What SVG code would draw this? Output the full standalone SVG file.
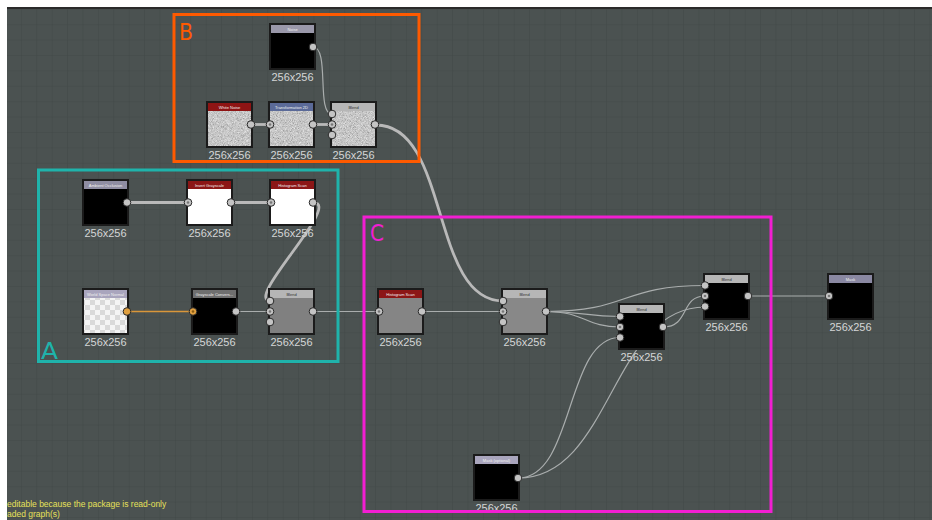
<svg xmlns="http://www.w3.org/2000/svg" width="932" height="520" viewBox="0 0 932 520">
<style>
.frame{fill:#1b1b1b;stroke:#1b1b1b;stroke-width:2}
.hdr-text{font-family:"Liberation Sans",Arial,sans-serif;font-size:4px;fill:#f0f0f0;text-anchor:middle}
.lbl{font-family:"Liberation Sans",Arial,sans-serif;font-size:11px;fill:#d4d6d6;text-anchor:middle}
.port{fill:#c4c4c4;stroke:#2a2a2a;stroke-width:1}
.port-o{fill:#e0a040;stroke:#2a2a2a;stroke-width:1}
.dot{fill:#777}
.thick{fill:none;stroke:#b9b9b9;stroke-width:2.8}
.thin{fill:none;stroke:#a9adad;stroke-width:1.2}
.orange{fill:none;stroke:#d9963a;stroke-width:1.3}
.grp{fill:none;stroke-width:3}
.glabel{font-family:"DejaVu Sans Condensed","Liberation Sans",Arial,sans-serif;font-size:23px}
.msg{font-family:"Liberation Sans",Arial,sans-serif;font-size:8.5px;fill:#e6e05a}
</style>
<defs>
<pattern id="grid" x="5.5" y="8.8" width="15.4" height="15.4" patternUnits="userSpaceOnUse">
<rect width="15.4" height="15.4" fill="#4b5251"/>
<path d="M0 0H15.4M0 0V15.4" stroke="#424948" stroke-width="1.2" fill="none"/>
</pattern>
<pattern id="checker" width="10" height="10" patternUnits="userSpaceOnUse">
<rect width="10" height="10" fill="#f4f4f4"/>
<rect width="5" height="5" fill="#d9d9d9"/>
<rect x="5" y="5" width="5" height="5" fill="#d9d9d9"/>
</pattern>
<filter id="noise" x="0" y="0" width="100%" height="100%">
<feTurbulence type="fractalNoise" baseFrequency="1.6" numOctaves="2" seed="4"/>
<feColorMatrix type="matrix" values="0.33 0.33 0.33 0 0 0.33 0.33 0.33 0 0 0.33 0.33 0.33 0 0 0 0 0 0 1"/>
<feComponentTransfer><feFuncR type="linear" slope="1.1" intercept="0.02"/><feFuncG type="linear" slope="1.1" intercept="0.02"/><feFuncB type="linear" slope="1.1" intercept="0.02"/></feComponentTransfer>
</filter>
</defs>

<rect width="932" height="520" fill="#ffffff"/>
<rect x="7" y="7" width="925" height="513" fill="url(#grid)"/>
<rect x="7" y="7" width="925" height="2" fill="#2b2b2b"/>

<g id="connectors">
<path class="thin" d="M313,47 C330,47 316,114 332,114"/>
<path class="thick" d="M251,124.5 H270"/>
<path class="thick" d="M313,124.5 H332"/>
<path class="thick" d="M376,125 C450,125 430,301 503,301"/>
<path class="thick" d="M127,202.5 H188"/>
<path class="thick" d="M231,202.5 H271"/>
<path class="thick" d="M313,202.5 C344,202.5 242,301 271,301"/>
<path class="orange" d="M127,311.5 H193"/>
<path class="thin" d="M236,311.5 H270"/>
<path class="thin" d="M313,311.5 H379"/>
<path class="thin" d="M422,311.5 H503"/>
<path class="thin" d="M546,311.5 C630,311.5 620,285.5 705,285.5"/>
<path class="thin" d="M546,311.5 C585,311.5 585,316.5 620,316.5"/>
<path class="thin" d="M546,311.5 C585,311.5 585,327 620,327"/>
<path class="thin" d="M663,327 C690,327 680,296 705,296"/>
<path class="thin" d="M518,478 C612,478 611,307 705,307"/>
<path class="thin" d="M518,478 C575,478 565,337.5 620,337.5"/>
<path class="thin" d="M748,296 H829"/>
</g>

<g id="node-noise">
<rect class="frame" x="270" y="24" width="45" height="45"/>
<rect x="271" y="25" width="43" height="8" fill="#9a98aa"/>
<rect x="271" y="33" width="43" height="35" fill="#000"/>
<text class="hdr-text" x="292.5" y="30.5">Noise</text>
<circle class="port" cx="313" cy="47" r="3.8"/>
<text class="lbl" x="292.5" y="80.5">256x256</text>
</g>

<g id="node-white-noise">
<rect class="frame" x="207" y="102" width="45" height="45"/>
<rect x="208" y="111" width="43" height="35" fill="#888" filter="url(#noise)"/>
<rect x="208" y="103" width="43" height="8" fill="#8e1414"/>
<text class="hdr-text" x="229.5" y="108.5">White Noise</text>
<circle class="port" cx="251" cy="124.5" r="3.8"/>
<text class="lbl" x="229.5" y="158.5">256x256</text>
</g>

<g id="node-transformation-2d">
<rect class="frame" x="269" y="102" width="45" height="45"/>
<rect x="270" y="111" width="43" height="35" fill="#888" filter="url(#noise)"/>
<rect x="270" y="103" width="43" height="8" fill="#5b6a98"/>
<text class="hdr-text" x="291.5" y="108.5">Transformation 2D</text>
<circle class="port" cx="270" cy="124.5" r="3.8"/><circle class="dot" cx="270" cy="124.5" r="1.3"/>
<circle class="port" cx="313" cy="124.5" r="3.8"/>
<text class="lbl" x="291.5" y="158.5">256x256</text>
</g>

<g id="node-blend-b">
<rect class="frame" x="331" y="102" width="45" height="45"/>
<rect x="332" y="111" width="43" height="35" fill="#888" filter="url(#noise)"/>
<rect x="332" y="103" width="43" height="8" fill="#b6b6b6"/>
<text class="hdr-text" x="353.5" y="108.5" style="fill:#333">Blend</text>
<circle class="port" cx="332" cy="114" r="3.8"/>
<circle class="port" cx="332" cy="124.5" r="3.8"/><circle class="dot" cx="332" cy="124.5" r="1.3"/>
<circle class="port" cx="332" cy="135" r="3.8"/>
<circle class="port" cx="375" cy="124.5" r="3.8"/>
<text class="lbl" x="353.5" y="158.5">256x256</text>
</g>

<g id="node-ambient-occlusion">
<rect class="frame" x="83" y="180" width="45" height="45"/>
<rect x="84" y="181" width="43" height="8" fill="#8f8da2"/>
<rect x="84" y="189" width="43" height="35" fill="#000"/>
<text class="hdr-text" x="105.5" y="186.5">Ambient Occlusion</text>
<circle class="port" cx="127" cy="202.5" r="3.8"/>
<text class="lbl" x="105.5" y="236.5">256x256</text>
</g>

<g id="node-invert-grayscale">
<rect class="frame" x="187" y="180" width="45" height="45"/>
<rect x="188" y="181" width="43" height="8" fill="#8c1616"/>
<rect x="188" y="189" width="43" height="35" fill="#fff"/>
<text class="hdr-text" x="209.5" y="186.5">Invert Grayscale</text>
<circle class="port" cx="188" cy="202.5" r="3.8"/><circle class="dot" cx="188" cy="202.5" r="1.3"/>
<circle class="port" cx="231" cy="202.5" r="3.8"/>
<text class="lbl" x="209.5" y="236.5">256x256</text>
</g>

<g id="node-histogram-scan-a">
<rect class="frame" x="270" y="180" width="45" height="45"/>
<rect x="271" y="181" width="43" height="8" fill="#8c1616"/>
<rect x="271" y="189" width="43" height="35" fill="#fff"/>
<text class="hdr-text" x="292.5" y="186.5">Histogram Scan</text>
<circle class="port" cx="271" cy="202.5" r="3.8"/><circle class="dot" cx="271" cy="202.5" r="1.3"/>
<circle class="port" cx="313" cy="202.5" r="3.8"/>
<text class="lbl" x="292.5" y="236.5">256x256</text>
</g>

<g id="node-world-space-normal">
<rect class="frame" x="83" y="289" width="45" height="45"/>
<rect x="84" y="290" width="43" height="8" fill="#a9a5bd"/>
<rect x="84" y="298" width="43" height="35" fill="url(#checker)"/>
<text class="hdr-text" x="105.5" y="295.5">World Space Normal</text>
<circle class="port-o" cx="127" cy="311.5" r="3.8"/>
<text class="lbl" x="105.5" y="345.5">256x256</text>
</g>

<g id="node-grayscale-conversion">
<rect class="frame" x="192" y="289" width="45" height="45"/>
<rect x="193" y="290" width="43" height="8" fill="#6f6f6f"/>
<rect x="193" y="298" width="43" height="35" fill="#000"/>
<text class="hdr-text" x="214.5" y="295.5">Grayscale Convers...</text>
<circle class="port-o" cx="193" cy="311.5" r="3.8"/><circle cx="193" cy="311.5" r="1.3" fill="#8a5a10"/>
<circle class="port" cx="236" cy="311.5" r="3.8"/>
<text class="lbl" x="214.5" y="345.5">256x256</text>
</g>

<g id="node-blend-a">
<rect class="frame" x="269" y="289" width="45" height="45"/>
<rect x="270" y="290" width="43" height="8" fill="#b6b6b6"/>
<rect x="270" y="298" width="43" height="35" fill="#808080"/>
<text class="hdr-text" x="291.5" y="295.5" style="fill:#333">Blend</text>
<circle class="port" cx="270" cy="301" r="3.8"/>
<circle class="port" cx="270" cy="311.5" r="3.8"/><circle class="dot" cx="270" cy="311.5" r="1.3"/>
<circle class="port" cx="270" cy="322" r="3.8"/>
<circle class="port" cx="313" cy="311.5" r="3.8"/>
<text class="lbl" x="291.5" y="345.5">256x256</text>
</g>

<g id="node-histogram-scan-c">
<rect class="frame" x="378" y="289" width="45" height="45"/>
<rect x="379" y="290" width="43" height="8" fill="#8c1616"/>
<rect x="379" y="298" width="43" height="35" fill="#858585"/>
<text class="hdr-text" x="400.5" y="295.5">Histogram Scan</text>
<circle class="port" cx="379" cy="311.5" r="3.8"/><circle class="dot" cx="379" cy="311.5" r="1.3"/>
<circle class="port" cx="422" cy="311.5" r="3.8"/>
<text class="lbl" x="400.5" y="345.5">256x256</text>
</g>

<g id="node-blend-c1">
<rect class="frame" x="502" y="289" width="45" height="45"/>
<rect x="503" y="290" width="43" height="8" fill="#b6b6b6"/>
<rect x="503" y="298" width="43" height="35" fill="#888"/>
<text class="hdr-text" x="524.5" y="295.5" style="fill:#333">Blend</text>
<circle class="port" cx="503" cy="301" r="3.8"/>
<circle class="port" cx="503" cy="311.5" r="3.8"/><circle class="dot" cx="503" cy="311.5" r="1.3"/>
<circle class="port" cx="503" cy="322" r="3.8"/>
<circle class="port" cx="546" cy="311.5" r="3.8"/>
<text class="lbl" x="524.5" y="345.5">256x256</text>
</g>

<g id="node-blend-c2">
<rect class="frame" x="619" y="304" width="45" height="45"/>
<rect x="620" y="305" width="43" height="8" fill="#b6b6b6"/>
<rect x="620" y="313" width="43" height="35" fill="#000"/>
<text class="hdr-text" x="641.5" y="310.5" style="fill:#333">Blend</text>
<circle class="port" cx="620" cy="316.5" r="3.8"/>
<circle class="port" cx="620" cy="327" r="3.8"/><circle class="dot" cx="620" cy="327" r="1.3"/>
<circle class="port" cx="620" cy="337.5" r="3.8"/>
<circle class="port" cx="663" cy="327" r="3.8"/>
<text class="lbl" x="641.5" y="360.5">256x256</text>
</g>

<g id="node-blend-c3">
<rect class="frame" x="704" y="274" width="45" height="45"/>
<rect x="705" y="275" width="43" height="8" fill="#b6b6b6"/>
<rect x="705" y="283" width="43" height="35" fill="#000"/>
<text class="hdr-text" x="726.5" y="280.5" style="fill:#333">Blend</text>
<circle class="port" cx="705" cy="285.5" r="3.8"/>
<circle class="port" cx="705" cy="296" r="3.8"/><circle class="dot" cx="705" cy="296" r="1.3"/>
<circle class="port" cx="705" cy="306.5" r="3.8"/>
<circle class="port" cx="748" cy="296" r="3.8"/>
<text class="lbl" x="726.5" y="330.5">256x256</text>
</g>

<g id="node-mask">
<rect class="frame" x="828" y="274" width="45" height="45"/>
<rect x="829" y="275" width="43" height="8" fill="#8a88a2"/>
<rect x="829" y="283" width="43" height="35" fill="#000"/>
<text class="hdr-text" x="850.5" y="280.5">Mask</text>
<circle class="port" cx="829" cy="296" r="3.8"/><circle class="dot" cx="829" cy="296" r="1.3"/>
<text class="lbl" x="850.5" y="330.5">256x256</text>
</g>

<g id="node-mask-optional">
<rect class="frame" x="474" y="455" width="45" height="45"/>
<rect x="475" y="456" width="43" height="8" fill="#a9a5bd"/>
<rect x="475" y="464" width="43" height="35" fill="#000"/>
<text class="hdr-text" x="496.5" y="461.5">Mask (optional)</text>
<circle class="port" cx="518" cy="478" r="3.8"/>
<text class="lbl" x="496.5" y="511.5">256x256</text>
</g>

<g id="group-b">
<rect class="grp" x="174" y="14.5" width="245" height="147" stroke="#ff5a00"/>
<text class="glabel" x="179" y="40" fill="#ff5a00" textLength="14" lengthAdjust="spacingAndGlyphs">B</text>
</g>
<g id="group-a">
<rect class="grp" x="38.5" y="170" width="299.5" height="191.5" stroke="#1fb3ab"/>
<text class="glabel" x="41" y="358.5" fill="#1fb3ab" textLength="17" lengthAdjust="spacingAndGlyphs">A</text>
</g>
<g id="group-c">
<rect class="grp" x="364" y="217" width="407" height="294.5" stroke="#f21ed2"/>
<text class="glabel" x="370" y="241" fill="#f21ed2" textLength="14" lengthAdjust="spacingAndGlyphs">C</text>
</g>

<text class="msg" x="7" y="507">editable because the package is read-only</text>
<text class="msg" x="7" y="517">aded graph(s)</text>
</svg>
